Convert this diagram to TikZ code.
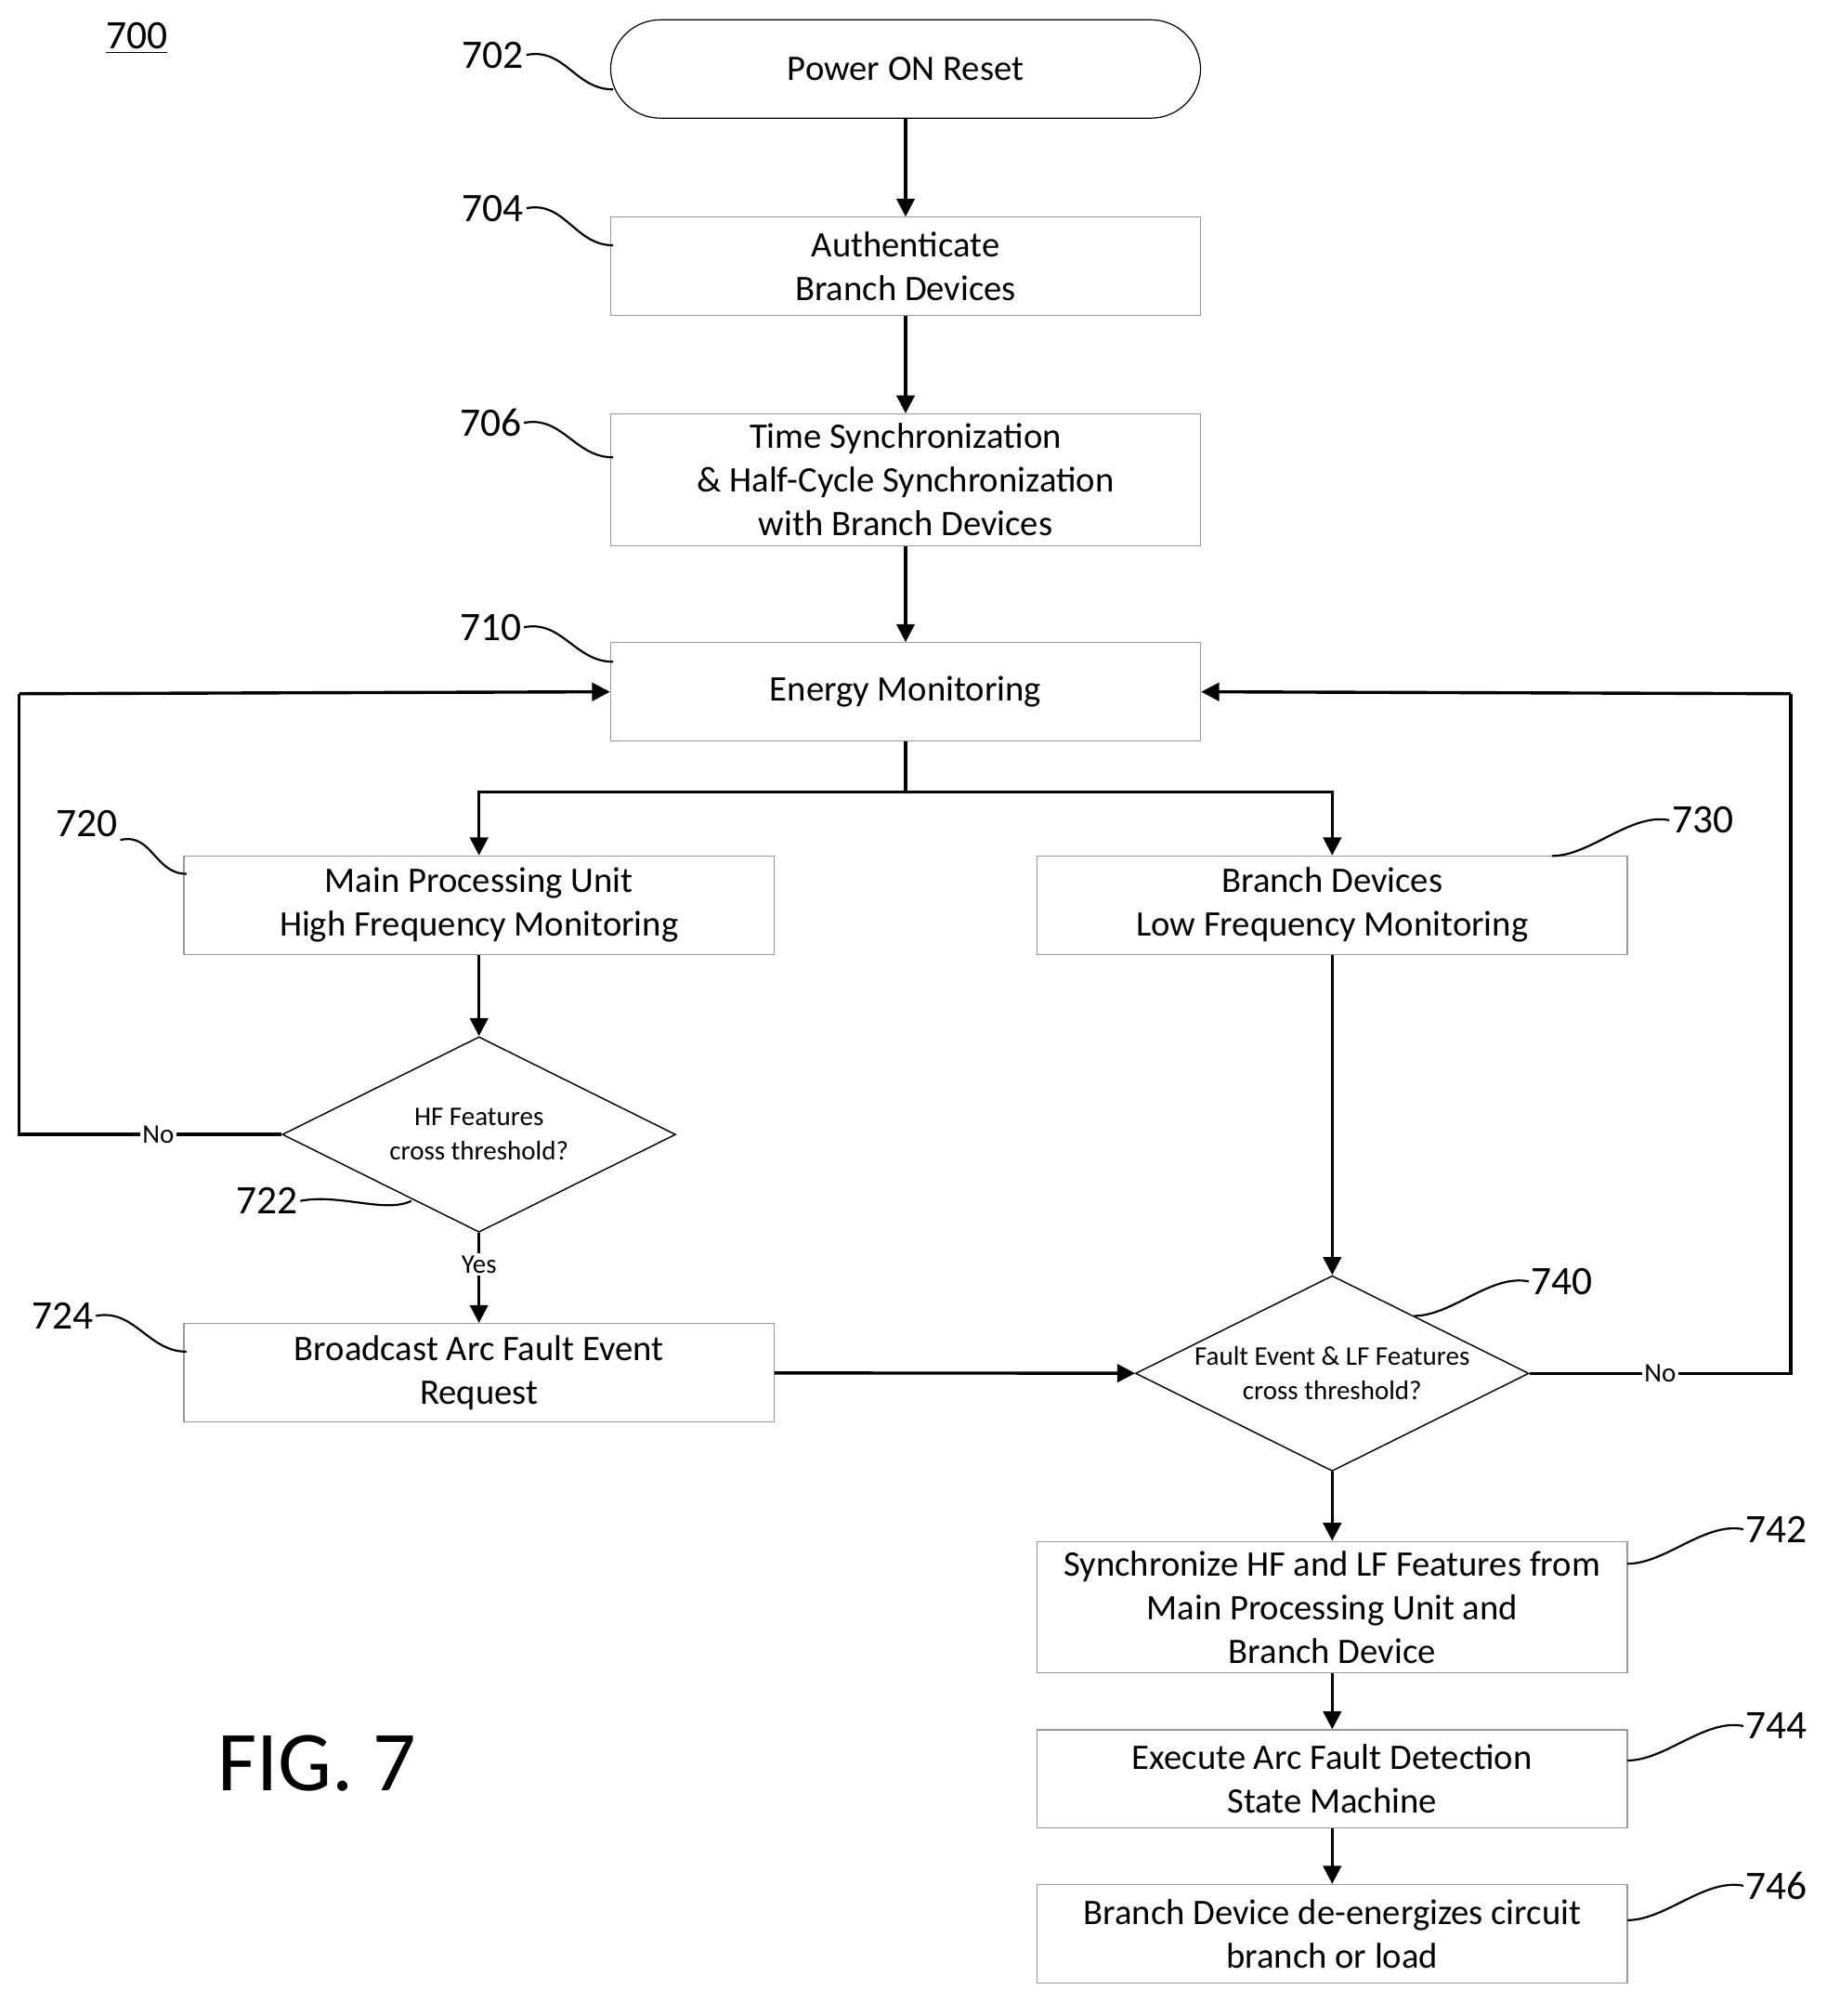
\documentclass[tikz,border=0pt]{standalone}
\usepackage{fontspec}
\setmainfont{Carlito}
\usetikzlibrary{shapes.geometric,arrows.meta}
\begin{document}
\begin{tikzpicture}[x=0.02cm,y=-0.02cm,
  box/.style={draw=gray!80,line width=0.5pt,minimum width=9.24cm,minimum height=1.54cm,align=center,inner sep=0pt,font=\fontsize{16}{19.5}\selectfont},
  dia/.style={draw=black,line width=0.6pt,diamond,aspect=2,minimum width=6.16cm,minimum height=3.06cm,inner sep=0pt,align=center,font=\fontsize{12}{15.3}\selectfont},
  ar/.style={line width=1.4pt,-{Triangle[length=8pt,width=8pt]}},
  ln/.style={line width=1.4pt},
  num/.style={font=\fontsize{18}{20}\selectfont,inner sep=1pt},
  sq/.style={line width=0.9pt},
  lab/.style={fill=white,inner sep=1pt,font=\fontsize{12}{14}\selectfont}]
\useasboundingbox (0,0) rectangle (1440,1578);
\node[font=\fontsize{18}{20}\selectfont] (n700) at (107,30) {\underline{700}};
\node[box,draw=black,rounded corners=0.78cm] (b702) at (709,54) {Power ON Reset};
\node[box] (b704) at (709,208.5) {Authenticate\\Branch Devices};
\node[box,minimum height=2.06cm] (b706) at (709,375.5) {Time Synchronization\\\& Half-Cycle Synchronization\\with Branch Devices};
\node[box] (b710) at (709,541.5) {Energy Monitoring};
\node[box] (b720) at (375,708.5) {Main Processing Unit\\High Frequency Monitoring};
\node[box] (b730) at (1043,708.5) {Branch Devices\\Low Frequency Monitoring};
\node[dia] (d722) at (375,888) {HF Features\\cross threshold?};
\node[box] (b724) at (375,1074.5) {Broadcast Arc Fault Event\\Request};
\node[dia] (d740) at (1043,1075) {Fault Event \& LF Features\\cross threshold?};
\node[box,minimum height=2.06cm] (b742) at (1043,1258) {Synchronize HF and LF Features from\\Main Processing Unit and\\Branch Device};
\node[box] (b744) at (1043,1392.5) {Execute Arc Fault Detection\\State Machine};
\node[box] (b746) at (1043,1513.5) {Branch Device de-energizes circuit\\branch or load};
\node[font=\fontsize{38}{40}\selectfont] (fig) at (248,1380) {FIG. 7};

\coordinate (split) at (709,620);
\coordinate (ll) at (15,888);
\coordinate (lt) at (15,543);
\coordinate (rr) at (1402,1075);
\coordinate (rt) at (1402,543);

\draw[ar] (b702) -- (b704);
\draw[ar] (b704) -- (b706);
\draw[ar] (b706) -- (b710);
\draw[ln] (b710) -- (split);
\draw[ar] (split) -| (b720);
\draw[ar] (split) -| (b730);
\draw[ar] (b720) -- (d722);
\draw[ar] (d722) -- node[lab,pos=0.35]{Yes} (b724);
\draw[ln] (d722.west) -- node[lab,pos=0.47]{No} (ll) -- (lt);
\draw[ar] (lt) -- (b710.west);
\draw[ar] (b730) -- (d740);
\draw[ar] (b724) -- (d740);
\draw[ln] (d740.east) -- node[lab,pos=0.5]{No} (rr) -- (rt);
\draw[ar] (rt) -- (b710.east);
\draw[ar] (d740) -- (b742);
\draw[ar] (b742) -- (b744);
\draw[ar] (b744) -- (b746);

\node[num] (l702) at (386,43) {702};
\node[num] (l704) at (386,163) {704};
\node[num] (l706) at (384,331) {706};
\node[num] (l710) at (384,491) {710};
\node[num] (l720) at (68,645) {720};
\node[num] (l730) at (1333,642) {730};
\node[num] (l722) at (209,940) {722};
\node[num] (l724) at (49,1030) {724};
\node[num] (l740) at (1223,1003) {740};
\node[num] (l742) at (1391,1197) {742};
\node[num] (l744) at (1391,1351) {744};
\node[num] (l746) at (1391,1476) {746};
\coordinate (t702) at (480,70);
\coordinate (t704) at (480,192);
\coordinate (t706) at (480,358);
\coordinate (t710) at (480,518);
\coordinate (t720) at (146,684);
\coordinate (t730) at (1215,670);
\coordinate (t722) at (322,940);
\coordinate (t724) at (146,1058);
\coordinate (t740) at (1107,1030);
\coordinate (t742) at (1274,1224);
\coordinate (t744) at (1274,1378);
\coordinate (t746) at (1274,1503);
\draw[sq] (l702.east) .. controls +(30,-6) and +(-30,0) .. (t702);
\draw[sq] (l704.east) .. controls +(30,-6) and +(-30,0) .. (t704);
\draw[sq] (l706.east) .. controls +(30,-6) and +(-30,0) .. (t706);
\draw[sq] (l710.east) .. controls +(30,-6) and +(-30,0) .. (t710);
\draw[sq] (l720.south east) .. controls +(25,-6) and +(-25,0) .. (t720);
\draw[sq] (l724.east) .. controls +(30,-6) and +(-30,0) .. (t724);
\draw[sq] (l722.east) .. controls +(30,-6) and +(-20,10) .. (t722);
\draw[sq] (l730.west) .. controls +(-30,-6) and +(30,0) .. (t730);
\draw[sq] (l740.west) .. controls +(-30,-6) and +(30,0) .. (t740);
\draw[sq] (l742.west) .. controls +(-30,-6) and +(30,0) .. (t742);
\draw[sq] (l744.west) .. controls +(-30,-6) and +(30,0) .. (t744);
\draw[sq] (l746.west) .. controls +(-30,-6) and +(30,0) .. (t746);
\end{tikzpicture}
\end{document}
